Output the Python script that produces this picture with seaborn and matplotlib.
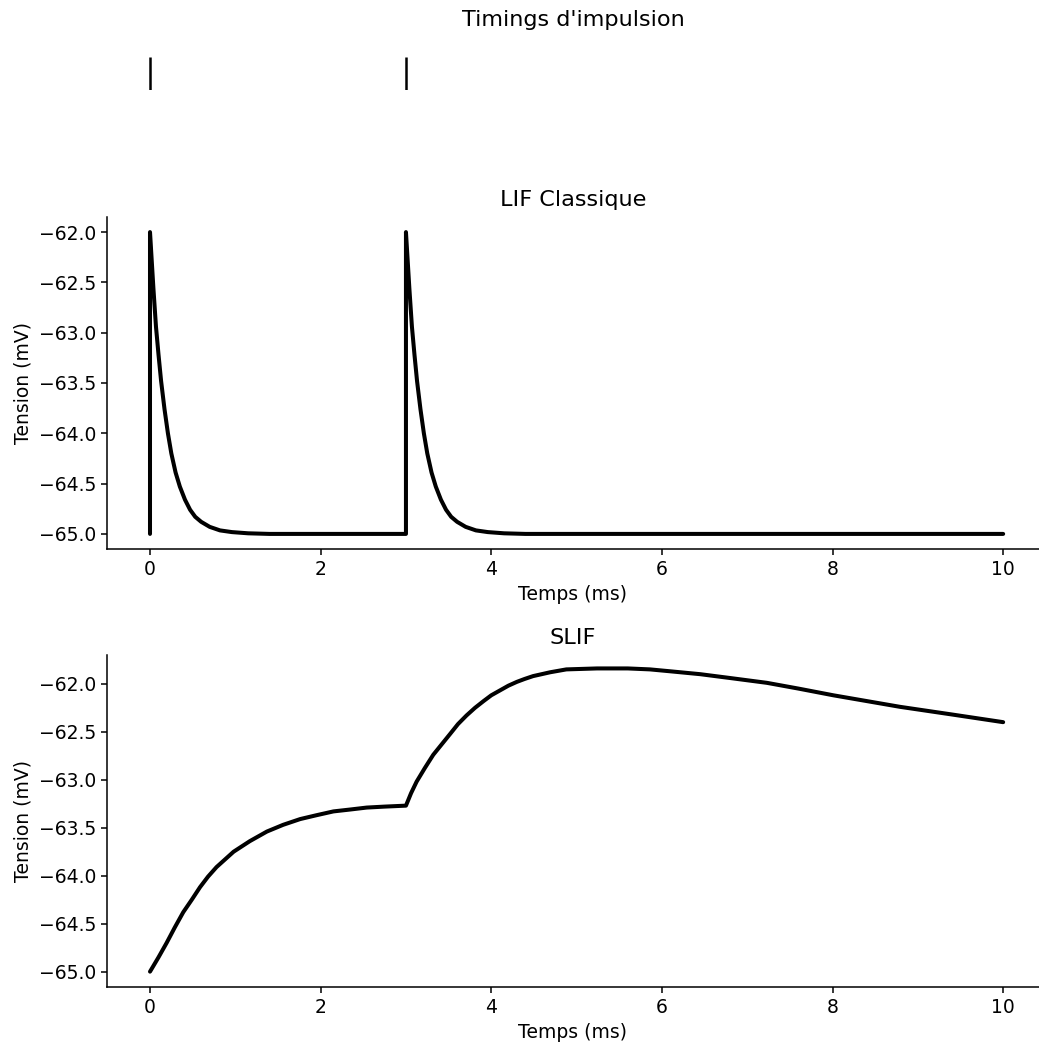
import matplotlib
matplotlib.use("Agg")
import matplotlib.pyplot as plt
import seaborn as sns
import pandas as pd

# Spike timings (ms)
spike_times = [0.0, 3.0]

# LIF Classique trace (ms, mV)
lif_t = [0.0, 0.0, 0.04, 0.07, 0.10, 0.13, 0.17, 0.21, 0.25, 0.30, 0.35, 0.41, 0.47, 0.53, 0.60, 0.70, 0.82, 0.96, 1.15, 1.4, 2.0, 2.99,
         3.0, 3.0, 3.04, 3.07, 3.10, 3.13, 3.17, 3.21, 3.25, 3.30, 3.35, 3.41, 3.47, 3.53, 3.60, 3.70, 3.82, 3.96, 4.15, 4.4, 6.0, 8.0, 10.0]
lif_v = [-65.0, -62.0, -62.56, -62.94, -63.22, -63.48, -63.76, -64.0, -64.2, -64.39, -64.53, -64.66, -64.76, -64.83, -64.88, -64.93, -64.965, -64.982, -64.994, -65.0, -65.0, -65.0,
         -65.0, -62.0, -62.56, -62.94, -63.22, -63.48, -63.76, -64.0, -64.2, -64.39, -64.53, -64.66, -64.76, -64.83, -64.88, -64.93, -64.965, -64.982, -64.994, -65.0, -65.0, -65.0, -65.0]

# SLIF trace (ms, mV)
slif_t = [0.0, 0.1, 0.195, 0.29, 0.39, 0.49, 0.586, 0.68, 0.78, 0.88, 0.98, 1.17, 1.37, 1.56, 1.76, 1.95, 2.15, 2.35, 2.54, 2.75, 3.0,
          3.06, 3.125, 3.22, 3.32, 3.42, 3.52, 3.61, 3.71, 3.81, 3.91, 4.0, 4.10, 4.20, 4.30, 4.39, 4.49, 4.59, 4.69, 4.88, 5.06, 5.24,
          5.39, 5.6, 5.86, 6.1, 6.45, 6.8, 7.23, 7.6, 8.01, 8.4, 8.79, 9.4, 10.0]
slif_v = [-65.0, -64.85, -64.70, -64.54, -64.38, -64.25, -64.12, -64.01, -63.91, -63.83, -63.75, -63.64, -63.54, -63.47, -63.41, -63.37, -63.33, -63.31, -63.29, -63.28, -63.27,
          -63.14, -63.02, -62.88, -62.74, -62.63, -62.52, -62.42, -62.33, -62.25, -62.18, -62.12, -62.07, -62.02, -61.98, -61.95, -61.92, -61.90, -61.88, -61.85, -61.845, -61.84,
          -61.84, -61.84, -61.85, -61.87, -61.90, -61.94, -61.99, -62.05, -62.12, -62.18, -62.24, -62.32, -62.40]

sns.set_theme(style="ticks")
plt.rcParams['font.family'] = ['DejaVu Sans']
plt.rcParams.update({"text.color": "black", "axes.labelcolor": "black",
                     "xtick.color": "black", "ytick.color": "black",
                     "axes.edgecolor": "black"})

W, H = 1039, 1048
fig = plt.figure(figsize=(W / 100, H / 100), dpi=100)

def frac(x0, y0, x1, y1):
    return [x0 / W, 1 - y1 / H, (x1 - x0) / W, (y1 - y0) / H]

ax0 = fig.add_axes(frac(107, 57, 1039, 90))
ax1 = fig.add_axes(frac(107, 217, 1039, 549))
ax2 = fig.add_axes(frac(107, 655, 1039, 987))

xlim = (-0.504, 10.42)
FS_TICK = 13.5
FS_TITLE = 16.1

ax0.eventplot(spike_times, colors="black", linelengths=1, lineoffsets=1, linewidths=1.8)
ax0.set_xlim(*xlim)
ax0.set_ylim(0.5, 1.5)
ax0.axis("off")
ax0.set_title("Timings d'impulsion", fontsize=FS_TITLE, pad=22.5)

df_lif = pd.DataFrame({"t": lif_t, "v": lif_v})
df_slif = pd.DataFrame({"t": slif_t, "v": slif_v})

for ax, df, title in [(ax1, df_lif, "LIF Classique"), (ax2, df_slif, "SLIF")]:
    ax.plot(df["t"], df["v"], color="black", linewidth=2.9, solid_joinstyle="round")
    ax.set_xlim(*xlim)
    ax.set_title(title, fontsize=FS_TITLE, pad=8)
    ax.set_xlabel("Temps (ms)", fontsize=FS_TICK)
    ax.set_ylabel("Tension (mV)", fontsize=FS_TICK)
    ax.tick_params(labelsize=FS_TICK, length=4.5, width=1.1, colors="black")
    for s in ("left", "bottom"):
        ax.spines[s].set_color("black")
        ax.spines[s].set_linewidth(1.1)
    sns.despine(ax=ax)

yt = [-62.0, -62.5, -63.0, -63.5, -64.0, -64.5, -65.0]
ax1.set_ylim(-65.15, -61.85)
ax2.set_ylim(-65.16, -61.7)
for ax in (ax1, ax2):
    ax.set_yticks(yt)
    ax.set_yticklabels([f"\u2212{abs(v):.1f}" for v in yt])

fig.savefig("out.png", dpi=100)
